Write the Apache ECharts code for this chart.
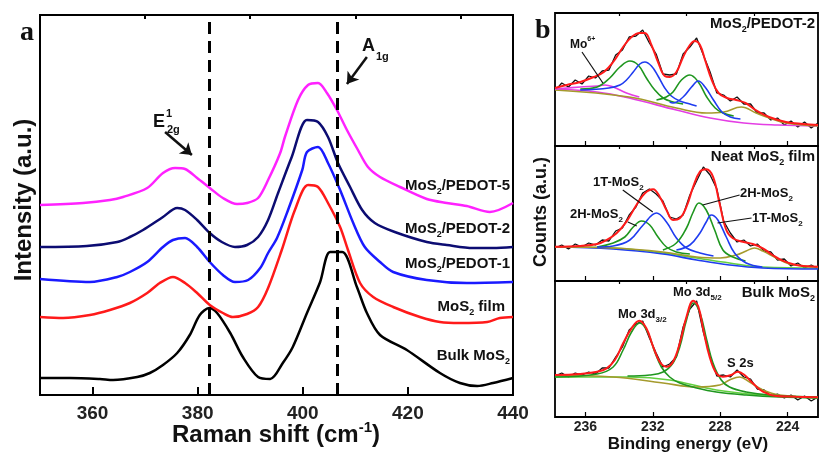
<!DOCTYPE html>
<html>
<head>
<meta charset="utf-8">
<script src="https://cdn.jsdelivr.net/npm/echarts@6/dist/echarts.min.js"></script>
<style>
  html, body { margin: 0; padding: 0; background: #fff; }
  #chart { width: 821px; height: 455px; }
</style>
</head>
<body>
<div id="chart"></div>
<script>
// ---------- panel a: Raman spectra, [shift cm-1, intensity a.u.] ----------
const ramanPedot5 = [[350,190],[358.2,192],[363.3,195],[365.8,198],[370.4,207],[373.4,222],[375.7,227],[377.6,226],[379.9,217],[382.3,207],[384.8,197],[387.5,191],[389.4,192],[391.5,197],[393.4,215],[395.7,242],[396.6,258],[399.1,295],[401,310],[402.9,312],[404.6,302],[406.5,285],[408.4,265],[410.5,245],[412.4,228],[414.7,218],[418.5,208],[423.6,196],[427.4,192],[431.2,189],[435.6,183],[440,192]];
const ramanPedot2 = [[350,148],[358.9,149],[364.7,153],[367.1,158],[369.6,165],[373.4,178],[376.1,187],[377.6,185],[379.9,175],[382.3,162],[384.6,153],[387.1,148],[389.4,150],[391.5,158],[393.4,175],[395.3,202],[397.9,238],[400.8,275],[402.9,273],[404.8,258],[406.7,232],[409,208],[411.3,185],[413.7,172],[417.5,163],[423.6,153],[427.4,150],[432.4,147],[436.2,147],[440,148]];
const ramanPedot1 = [[350,116],[359.5,113],[364.7,118],[367.1,123],[370.4,133],[373.4,148],[375.3,155],[377.6,157],[379.9,148],[382.3,133],[384.8,120],[387.1,113],[389.6,115],[391.9,127],[393.4,142],[395.1,157],[397.2,185],[399.9,225],[400.8,243],[402.9,248],[404.8,232],[407.1,205],[409.6,172],[411.8,148],[414.7,133],[417.2,123],[423.6,115],[431.2,112],[440,113]];
const ramanFilm = [[350,78],[354.4,77],[359.5,80],[363.3,85],[367.1,92],[370.4,102],[372.8,112],[375.3,118],[377.6,112],[379.9,102],[382.3,90],[384.8,82],[386.7,78],[389.4,81],[391.5,88],[393.4,107],[396,145],[398.5,185],[401,210],[402.9,208],[404.8,192],[407.1,168],[408.6,145],[410.9,112],[413.4,98],[417.2,88],[422.3,78],[426.1,73],[429.9,72],[435.1,73],[437.5,77],[440,78]];
const ramanBulk = [[350,17],[355.7,17],[361.4,16],[363.9,15],[368.5,18],[370.9,22],[373.4,30],[376.1,42],[378.5,60],[380.4,80],[382.2,87],[383.7,82],[386.2,62],[388.6,38],[391.5,18],[393.8,16],[396.2,32],[398.1,48],[400.8,82],[403.3,113],[405.2,143],[407.5,143],[410.3,108],[412.2,82],[414.7,60],[419.8,45],[426.1,22],[429.9,12],[433.2,9],[436.2,12],[440,17]];
const ramanModes = [382.2, 406.6];           // E12g and A1g positions (dashed lines)
const ramanTicks = [360, 380, 400, 420, 440];
const ramanMinorTicks = [370, 390, 410, 430];

// ---------- panel b: XPS Mo 3d, [binding energy eV, counts a.u.] ----------
const bindingEnergy = [237.8,237.4,237.0,236.6,236.2,235.8,235.4,235.0,234.6,234.2,233.8,233.4,233.0,232.6,232.2,231.8,231.4,231.0,230.6,230.2,229.8,229.4,229.0,228.6,228.2,227.8,227.4,227.0,226.6,226.2,225.8,225.4,225.0,224.6,224.2,223.8,223.4,223.0,222.6,222.2];
const rawPedot2 = [55,63,59,66,62,70,68,75,76,91,96,109,110,116,103,92,72,71,72,92,99,108,91,74,53,51,45,49,42,42,33,33,26,28,21,25,19,24,18,23];
const rawNeat = [33,36,32,37,34,38,36,41,40,50,53,66,74,88,92,87,80,64,62,66,86,100,114,106,92,60,48,39,41,35,37,30,29,21,22,15,18,13,16,12];
const rawBulk = [41,44,40,44,42,45,43,49,49,60,70,87,93,96,79,64,50,53,60,90,108,116,85,61,41,42,40,47,40,38,28,27,21,23,19,22,17,21,16,20];
const bindingTicks = [236, 232, 228, 224];
const bindingMinorTicks = [234, 230, 226];

// MoS2/PEDOT-2 fit
const p2Fit = [[237.8,58],[237.1,61],[236.3,64],[235.5,69],[234.9,74],[234.35,84],[233.76,99],[233.26,109],[232.77,113],[232.47,113],[232.08,101],[231.69,84],[231.29,70],[231.0,69],[230.6,74],[230.2,89],[229.8,101],[229.5,105],[229.2,101],[228.9,86],[228.5,66],[228.1,53],[227.6,48],[227.05,46],[226.5,43],[225.9,36],[225.1,29],[224.1,24],[223.1,22],[222.2,21]];
const p2Green1 = [[236.3,57],[235.3,59],[234.55,68],[233.95,79],[233.36,85],[232.87,81],[232.38,68],[231.88,56],[231.39,48],[230.8,44],[230.2,42]];
const p2Blue1 = [[236.3,56],[234.6,58],[233.95,61],[233.56,66],[233.16,74],[232.77,82],[232.47,84],[232.08,80],[231.69,70],[231.29,58],[230.9,50],[230.4,45],[229.8,42],[229.4,40]];
const p2Green2 = [[231.78,46],[231.2,49],[230.8,54],[230.3,66],[229.8,71],[229.3,64],[228.8,49],[228.3,38],[227.84,33],[227.2,30]];
const p2Blue2 = [[231.0,44],[230.8,43],[230.2,49],[229.7,59],[229.3,65],[228.9,59],[228.4,46],[227.9,34],[227.4,29],[226.8,27]];
const p2Olive = [[237.8,56],[233.4,49],[230.6,38],[228.8,33],[227.8,34],[226.75,39],[225.87,33],[225.08,28],[224.1,23],[222.2,20]];
const p2Mo6 = [[237.8,57],[236.3,59],[235.3,60],[234.84,61],[234.35,59],[233.56,53],[232.8,49]];
const p2Base = [[237.8,57],[235.3,54],[233.4,48],[230.6,36],[228.6,28],[226.6,23],[224.6,21],[222.2,20]];

// Neat MoS2 film fit
const neatFit = [[237.8,34.3],[236.3,35],[235.3,37],[234.74,41],[234.15,47.7],[233.56,59.3],[232.97,76],[232.47,87.7],[231.98,91.7],[231.59,84.3],[231.19,71],[230.8,61],[230.4,62.7],[230.0,74.3],[229.6,94.3],[229.2,109.3],[228.83,111.7],[228.43,104.3],[228.04,77.7],[227.64,51],[227.25,42.7],[226.66,39.3],[226.07,37],[225.47,32.7],[224.9,26],[224.3,20.3],[223.5,16],[222.2,14.3]];
const neatGreen1 = [[235.3,34],[234.35,38],[233.66,44],[233.16,54],[232.67,60],[232.18,56],[231.69,44],[231.19,34],[230.6,29],[229.8,27]];
const neatBlue1 = [[235.3,34],[234.35,35],[233.36,41],[232.57,56],[231.78,68],[231.19,59],[230.6,43],[230.0,33],[229.2,28],[228.4,25]];
const neatGreen2 = [[231.4,31],[230.6,38],[230.0,53],[229.6,69],[229.26,78],[228.83,71],[228.33,51],[227.84,31],[227.25,24],[226.5,20]];
const neatBlue2 = [[230.6,31],[229.8,36],[229.2,48],[228.83,59],[228.53,66],[228.14,61],[227.64,44],[227.15,28],[226.46,18],[225.5,14]];
const neatOlive = [[237.8,34],[234.4,33],[231.4,29],[229.4,24],[228.0,23],[227.05,26],[226.46,30],[225.97,33],[225.47,30],[224.68,23],[223.9,17],[222.9,15],[222.2,14]];
const neatBaseGreen = [[237.8,34],[234.35,33],[231.4,28],[229.4,23],[227.45,18],[225.5,14],[222.2,13]];
const neatBaseBlue = [[237.8,34],[234.35,32],[231.4,27],[229.4,21],[227.45,16],[225.5,13],[222.2,12]];

// Bulk MoS2 fit
const bulkFit = [[237.8,42],[236.3,43],[235.3,45.3],[234.74,48.7],[234.25,57],[233.76,73.7],[233.26,88.7],[232.8,96.3],[232.38,88.7],[231.98,70.3],[231.59,55.3],[231.19,50.3],[230.8,55.3],[230.4,73.7],[230.0,100.3],[229.6,116.3],[229.3,110.3],[229.0,87],[228.63,60.3],[228.23,43.7],[227.84,40.3],[227.35,42],[226.95,45.3],[226.56,42],[226.06,33.7],[225.47,25.3],[224.68,21],[223.5,20.3],[222.2,19.7]];
const bulkGreen1 = [[237.8,40],[235.3,43],[234.35,50],[233.76,67],[233.26,85],[232.77,94],[232.28,84],[231.88,65],[231.49,50],[231.0,40],[230.4,34],[229.4,29],[228.23,25],[226.46,22],[224.5,20],[222.2,19]];
const bulkGreen2 = [[233.5,41],[232.18,42],[231.39,45],[230.8,54],[230.4,70],[230.0,97],[229.6,114],[229.2,104],[228.8,77],[228.43,54],[227.94,37],[227.45,30],[226.46,25],[225.08,22],[222.2,20]];
const bulkOlive = [[237.8,42],[234.35,40],[231.39,34],[229.4,30],[228.03,32],[227.45,37],[226.85,40],[226.26,35],[225.47,27],[224.5,22],[222.2,20]];
const bulkBase = [[237.8,40],[233.36,40],[231.0,37],[228.23,27],[225.5,22],[222.2,19]];

const FONT = '"Liberation Sans", Arial, sans-serif';
const SERIF = '"Liberation Serif", "Times New Roman", serif';
const C = {
  magenta: '#ff22ff', navy: '#0c0c72', blue: '#1a1aff', red: '#ff1a1a', black: '#000',
  green: '#1f961f', xblue: '#1f3cf0', olive: '#a59a2c', xmag: '#e43ee4', lgreen: '#63d040'
};

function line(data, color, width, xi, yi, smooth) {
  return {
    type: 'line', data: data, xAxisIndex: xi, yAxisIndex: yi,
    symbol: 'none', smooth: smooth, silent: true,
    lineStyle: { color: color, width: width }, itemStyle: { color: color }
  };
}
function zip(xs, ys) { return xs.map((x, i) => [x, ys[i]]); }

// leader lines / arrows drawn in data coordinates
function guides(pairs, arrow, width) {
  return {
    silent: true, animation: false,
    symbol: arrow ? ['none', 'arrow'] : ['none', 'none'], symbolSize: 11,
    label: { show: false },
    lineStyle: { color: '#111', width: width, type: 'solid' },
    data: pairs.map(p => [{ coord: p[0] }, { coord: p[1] }])
  };
}

function rich(size) {
  const sub = Math.round(size * 0.62);
  return {
    n: { fontSize: size, fontWeight: 'bold', fontFamily: FONT, lineHeight: size + 6, fill: '#111' },
    s: { fontSize: sub, fontWeight: 'bold', fontFamily: FONT, lineHeight: sub, verticalAlign: 'bottom', fill: '#111' },
    p: { fontSize: sub, fontWeight: 'bold', fontFamily: FONT, lineHeight: sub, verticalAlign: 'top', fill: '#111' }
  };
}
function label(x, y, text, size, align, extra) {
  return Object.assign({
    type: 'text', x: x, y: y, silent: true,
    style: {
      text: text, rich: rich(size), fill: '#111',
      font: 'bold ' + size + 'px ' + FONT,
      align: align, textAlign: align, verticalAlign: 'middle', textVerticalAlign: 'middle'
    }
  }, extra || {});
}

function xAxisA(ticks, len, withLabels) {
  return {
    gridIndex: 0, type: 'value', min: 350, max: 440,
    axisLine: { show: false }, splitLine: { show: false },
    axisTick: { show: true, inside: true, length: len, customValues: ticks, lineStyle: { color: '#000', width: 2 } },
    axisLabel: withLabels
      ? { customValues: ticks, color: '#222', fontSize: 19, fontWeight: 'bold', fontFamily: FONT, margin: 9 }
      : { show: false }
  };
}
function xAxisB(grid, ticks, len, withLabels) {
  return {
    gridIndex: grid, type: 'value', min: 222.2, max: 237.8, inverse: true,
    axisLine: { show: false }, splitLine: { show: false },
    axisTick: { show: true, inside: true, length: len, customValues: ticks, lineStyle: { color: '#000', width: 1.2 } },
    axisLabel: withLabels
      ? { customValues: ticks, color: '#222', fontSize: 14, fontWeight: 'bold', fontFamily: FONT, margin: 3 }
      : { show: false }
  };
}

const chart = echarts.init(document.getElementById('chart'), null, { renderer: 'canvas' });

const dashed = {
  silent: true, animation: false, symbol: ['none', 'none'],
  label: { show: false },
  lineStyle: { color: '#000', width: 3, type: [12, 7] },
  data: ramanModes.map(v => ({ xAxis: v }))
};

const bulkRaman = line(ramanBulk, C.black, 2.5, 0, 0, 0.3);
bulkRaman.markLine = dashed;
const filmRaman = line(ramanFilm, C.red, 2.5, 0, 0, 0.3);
filmRaman.markLine = guides([[[373.8, 263], [378.9, 240]], [[412.2, 338], [408.4, 311]]], true, 2.5);

const p2Raw = line(zip(bindingEnergy, rawPedot2), '#111', 1.3, 2, 1, false);
const p2Leader = line(p2Mo6, C.xmag, 1.6, 2, 1, 0.4);
p2Leader.markLine = guides([[[236.2, 94], [234.96, 63]]], false, 1.2);
const neatRaw = line(zip(bindingEnergy, rawNeat), '#111', 1.3, 3, 2, false);
neatRaw.markLine = guides([
  [[233.78, 91], [232.0, 69]],
  [[233.48, 59], [232.95, 55]],
  [[226.85, 86], [229.04, 76]],
  [[226.14, 63], [228.16, 58]]
], false, 1.2);

const option = {
  animation: false,
  backgroundColor: '#fff',
  grid: [
    { left: 40, top: 15, width: 473, height: 380, show: true, borderColor: '#000', borderWidth: 2, backgroundColor: 'transparent' },
    { left: 555, top: 13, width: 263, height: 133, show: true, borderColor: '#000', borderWidth: 1.8, backgroundColor: 'transparent' },
    { left: 555, top: 146, width: 263, height: 135, show: true, borderColor: '#000', borderWidth: 1.8, backgroundColor: 'transparent' },
    { left: 555, top: 281, width: 263, height: 136, show: true, borderColor: '#000', borderWidth: 1.8, backgroundColor: 'transparent' }
  ],
  xAxis: [
    xAxisA(ramanTicks, 8, true),
    xAxisA(ramanMinorTicks, 4, false),
    xAxisB(1, bindingTicks, 5, false),
    xAxisB(2, bindingTicks, 5, false),
    xAxisB(3, bindingTicks, 5, true),
    xAxisB(1, bindingMinorTicks, 3, false),
    xAxisB(2, bindingMinorTicks, 3, false),
    xAxisB(3, bindingMinorTicks, 3, false)
  ],
  yAxis: [
    { gridIndex: 0, type: 'value', min: 0, max: 380, show: false },
    { gridIndex: 1, type: 'value', min: 0, max: 133, show: false },
    { gridIndex: 2, type: 'value', min: 0, max: 135, show: false },
    { gridIndex: 3, type: 'value', min: 0, max: 136, show: false }
  ],
  series: [
    // panel a
    bulkRaman,
    filmRaman,
    line(ramanPedot1, C.blue, 2.5, 0, 0, 0.3),
    line(ramanPedot2, C.navy, 2.5, 0, 0, 0.3),
    line(ramanPedot5, C.magenta, 2.5, 0, 0, 0.3),
    // panel b, MoS2/PEDOT-2
    p2Raw,
    line(p2Base, C.xmag, 1.6, 2, 1, 0.4),
    line(p2Olive, C.olive, 1.6, 2, 1, 0.4),
    p2Leader,
    line(p2Green1, C.green, 1.6, 2, 1, 0.4),
    line(p2Blue1, C.xblue, 1.6, 2, 1, 0.4),
    line(p2Green2, C.green, 1.6, 2, 1, 0.4),
    line(p2Blue2, C.xblue, 1.6, 2, 1, 0.4),
    line(p2Fit, C.red, 2, 2, 1, 0.4),
    // neat film
    neatRaw,
    line(neatBaseGreen, C.lgreen, 1.6, 3, 2, 0.4),
    line(neatBaseBlue, C.xblue, 1.6, 3, 2, 0.4),
    line(neatOlive, C.olive, 1.6, 3, 2, 0.4),
    line(neatGreen1, C.green, 1.6, 3, 2, 0.4),
    line(neatBlue1, C.xblue, 1.6, 3, 2, 0.4),
    line(neatGreen2, C.green, 1.6, 3, 2, 0.4),
    line(neatBlue2, C.xblue, 1.6, 3, 2, 0.4),
    line(neatFit, C.red, 2, 3, 2, 0.4),
    // bulk
    line(zip(bindingEnergy, rawBulk), '#111', 1.3, 4, 3, false),
    line(bulkBase, C.lgreen, 1.6, 4, 3, 0.4),
    line(bulkOlive, C.olive, 1.6, 4, 3, 0.4),
    line(bulkGreen1, C.green, 1.6, 4, 3, 0.4),
    line(bulkGreen2, C.green, 1.6, 4, 3, 0.4),
    line(bulkFit, C.red, 2, 4, 3, 0.4)
  ],
  graphic: [
    // panel a
    { type: 'text', x: 20, y: 33, silent: true, style: { text: 'a', font: 'bold 28px ' + SERIF, fill: '#111', align: 'left', verticalAlign: 'middle' } },
    label(24, 200, '{n|Intensity (a.u.)}', 24, 'center', { rotation: Math.PI / 2 }),
    label(276, 435, '{n|Raman shift (cm}{p|-1}{n|)}', 24, 'center'),
    label(153, 122, '{n|E}', 18, 'left'),
    label(166, 114, '{n|1}', 11, 'left'),
    label(167, 130, '{n|2g}', 11, 'left'),
    label(362, 46, '{n|A}', 18, 'left'),
    label(376, 57, '{n|1g}', 11, 'left'),
    label(510, 186, '{n|MoS}{s|2}{n|/PEDOT-5}', 15, 'right'),
    label(510, 229, '{n|MoS}{s|2}{n|/PEDOT-2}', 15, 'right'),
    label(510, 264, '{n|MoS}{s|2}{n|/PEDOT-1}', 15, 'right'),
    label(505, 307, '{n|MoS}{s|2}{n| film}', 15, 'right'),
    label(510, 356, '{n|Bulk MoS}{s|2}', 15, 'right'),
    // panel b
    { type: 'text', x: 535, y: 31, silent: true, style: { text: 'b', font: 'bold 28px ' + SERIF, fill: '#111', align: 'left', verticalAlign: 'middle' } },
    label(541, 212, '{n|Counts (a.u.)}', 18, 'center', { rotation: Math.PI / 2 }),
    label(688, 444, '{n|Binding energy (eV)}', 17, 'center'),
    label(815, 24, '{n|MoS}{s|2}{n|/PEDOT-2}', 15, 'right'),
    label(570, 45, '{n|Mo}{p|6+}', 12, 'left'),
    label(815, 157, '{n|Neat MoS}{s|2}{n| film}', 15, 'right'),
    label(593, 182, '{n|1T-MoS}{s|2}', 13, 'left'),
    label(570, 214, '{n|2H-MoS}{s|2}', 13, 'left'),
    label(740, 193, '{n|2H-MoS}{s|2}', 13, 'left'),
    label(752, 218, '{n|1T-MoS}{s|2}', 13, 'left'),
    label(815, 293, '{n|Bulk MoS}{s|2}', 15, 'right'),
    label(673, 292, '{n|Mo 3d}{s|5/2}', 13, 'left'),
    label(618, 314, '{n|Mo 3d}{s|3/2}', 13, 'left'),
    label(727, 363, '{n|S 2s}', 13, 'left')
  ]
};

chart.setOption(option);
</script>
</body>
</html>
